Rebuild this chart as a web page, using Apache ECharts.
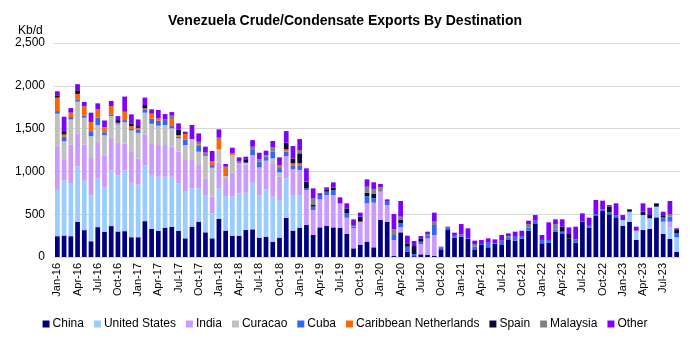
<!DOCTYPE html>
<html>
<head>
<meta charset="utf-8">
<script src="https://cdn.jsdelivr.net/npm/echarts@6/dist/echarts.min.js"></script>
<style>
  html, body { margin: 0; padding: 0; background: #fff; }
  #chart { width: 690px; height: 345px; }
</style>
</head>
<body>
<div id="chart"></div>
<script>
// Monthly categories Jan-16 .. Sep-23
const monthNames = ['Jan','Feb','Mar','Apr','May','Jun','Jul','Aug','Sep','Oct','Nov','Dec'];
const categories = [];
for (let y = 16; y <= 23; y++) {
  for (let m = 0; m < 12; m++) {
    if (y === 23 && m > 8) break;
    categories.push(monthNames[m] + '-' + y);
  }
}

// Exports by destination, Kb/d
const china = [243,251,243,412,314,184,349,294,361,298,302,231,
  231,419,329,304,343,354,304,218,354,413,288,218,
  444,308,249,249,315,323,226,237,179,226,459,308,
  343,374,257,346,362,346,343,269,101,140,179,113,
  432,413,12,288,62,10,31,23,12,90,323,226,
  237,210,82,140,113,152,140,199,191,214,307,393,
  160,167,296,276,218,167,413,343,479,537,498,463,
  362,413,199,315,327,463,269,210,62];
const unitedStates = [541,643,615,646,576,533,568,517,650,655,709,635,
  616,651,631,634,595,584,556,545,448,389,436,292,
  358,404,456,495,436,545,490,553,526,440,460,416,
  381,0,0,0,0,0,0,0,0,0,0,0,
  0,0,0,0,0,0,0,0,0,0,0,0,
  0,0,0,0,0,0,0,0,0,0,0,0,
  0,0,0,0,0,0,0,0,0,0,0,0,
  70,116,109,175,125,125,144,136,168];
const india = [510,258,455,381,423,439,424,373,381,380,314,369,
  305,361,361,370,370,351,370,370,331,272,195,195,
  300,199,280,350,331,323,330,335,381,272,261,300,
  292,408,292,327,362,378,284,190,234,273,448,522,
  331,194,186,58,0,0,121,195,245,0,0,0,
  0,0,0,0,0,0,0,0,0,0,0,0,
  0,0,0,0,0,0,0,0,0,0,0,0,
  0,0,0,0,0,0,0,67,0];
const curacao = [380,200,294,376,314,255,200,239,254,215,251,243,
  298,255,235,226,234,214,156,175,245,156,261,338,
  155,35,206,0,20,0,0,0,66,50,0,0,
  0,0,0,0,0,0,0,0,0,0,0,0,
  0,0,0,0,0,0,0,0,0,0,0,0,
  0,0,0,0,0,0,0,0,0,0,0,0,
  0,0,0,0,0,0,0,0,0,0,0,0,
  0,0,0,0,0,0,0,0,0];
const cuba = [31,51,28,27,27,59,86,35,20,8,23,19,
  40,31,59,58,66,27,19,66,0,66,10,31,
  0,10,0,0,0,59,70,47,78,51,50,39,
  47,20,39,51,39,58,0,51,20,0,85,51,
  0,39,59,47,59,25,27,27,117,23,20,31,
  28,10,39,12,54,10,51,23,46,31,39,31,
  39,32,27,20,0,40,0,31,23,20,24,27,
  0,0,0,0,0,0,50,58,46];
const caribbeanNetherlands = [157,28,51,63,98,106,98,59,98,12,98,32,
  19,20,59,28,0,82,20,62,0,20,0,47,
  109,99,20,0,0,0,0,0,0,35,27,31,
  31,0,0,0,0,0,0,0,0,0,0,0,
  0,0,0,0,0,0,0,0,0,0,0,0,
  0,0,0,0,0,0,0,0,0,0,0,0,
  0,0,0,0,0,0,0,0,0,0,0,0,
  0,0,0,0,0,0,0,0,0];
const spain = [20,39,0,43,0,0,0,0,0,31,0,27,
  20,39,0,0,0,0,66,0,0,0,0,0,
  0,0,0,0,31,0,0,0,0,0,78,58,
  117,78,19,0,27,28,0,58,0,58,39,51,
  0,0,0,39,39,93,39,0,0,0,0,0,
  0,0,0,0,0,0,0,0,0,0,0,0,
  0,0,0,58,51,0,0,0,0,0,66,0,
  0,28,0,39,38,39,16,0,39];
const malaysia = [0,0,0,0,10,0,0,0,0,0,0,0,
  0,0,0,0,0,39,0,0,0,30,31,0,
  28,0,0,27,0,38,27,19,51,0,0,0,
  39,0,78,0,0,0,0,0,10,0,70,58,
  51,0,66,39,0,0,0,24,39,0,0,0,
  0,0,31,0,0,0,0,23,0,0,39,0,
  0,0,62,0,0,0,0,0,0,0,0,0,
  0,0,0,0,0,0,0,31,0];
const other = [54,169,54,71,49,110,70,78,59,47,177,110,
  78,86,51,97,62,42,70,28,164,98,68,117,
  97,31,66,43,39,78,75,51,74,90,136,144,
  128,156,117,20,24,62,70,59,75,47,86,78,
  39,27,179,183,89,59,27,27,105,8,11,27,
  120,115,39,47,51,44,66,31,59,62,39,66,
  58,206,55,86,77,147,97,85,164,101,19,137,
  58,0,46,98,86,0,50,152,20];

const yTicks = [0, 500, 1000, 1500, 2000, 2500];

const seriesDefs = [
  { name: 'China', data: china, color: '#000080' },
  { name: 'United States', data: unitedStates, color: '#99CCFF' },
  { name: 'India', data: india, color: '#CC99FF' },
  { name: 'Curacao', data: curacao, color: '#C0C0C0' },
  { name: 'Cuba', data: cuba, color: '#3366FF' },
  { name: 'Caribbean Netherlands', data: caribbeanNetherlands, color: '#FF6600' },
  { name: 'Spain', data: spain, color: '#0A0A3A' },
  { name: 'Malaysia', data: malaysia, color: '#808080' },
  { name: 'Other', data: other, color: '#8000FF' }
];

const baseFont = 'Liberation Sans, Arial, sans-serif';
const chart = echarts.init(document.getElementById('chart'), null, { renderer: 'canvas' });

chart.setOption({
  animation: false,
  backgroundColor: '#ffffff',
  title: {
    text: 'Venezuela Crude/Condensate Exports By Destination',
    left: 'center',
    top: 9,
    textStyle: { fontFamily: baseFont, fontWeight: 'bold', fontSize: 14, color: '#000' }
  },
  graphic: [{
    type: 'text',
    left: 18,
    top: 25,
    style: { text: 'Kb/d', font: '12px ' + baseFont, fill: '#000' }
  }],
  legend: {
    bottom: 10,
    left: 'center',
    itemWidth: 7,
    itemHeight: 7,
    itemGap: 10,
    icon: 'rect',
    textStyle: { fontFamily: baseFont, fontSize: 12, color: '#000', padding: [0, 0, 0, -2] },
    data: seriesDefs.map(s => s.name)
  },
  grid: { left: 54, right: 10, top: 43, bottom: 88, containLabel: false },
  xAxis: {
    type: 'category',
    data: categories,
    axisTick: { show: false },
    axisLine: { lineStyle: { color: '#D9D9D9' } },
    axisLabel: {
      interval: 2,
      rotate: 90,
      fontFamily: baseFont,
      fontSize: 11,
      color: '#000',
      margin: 6
    }
  },
  yAxis: {
    type: 'value',
    min: yTicks[0],
    max: yTicks[yTicks.length - 1],
    interval: 500,
    axisLine: { show: false },
    axisTick: { show: false },
    splitLine: { lineStyle: { color: '#D9D9D9', width: 1 } },
    axisLabel: {
      fontFamily: baseFont,
      fontSize: 12,
      color: '#000',
      margin: 9,
      formatter: v => v.toLocaleString('en-US')
    }
  },
  series: seriesDefs.map(s => ({
    name: s.name,
    type: 'bar',
    stack: 'total',
    data: s.data,
    barCategoryGap: '30%',
    itemStyle: { color: s.color },
    emphasis: { disabled: true }
  }))
});
</script>
</body>
</html>
